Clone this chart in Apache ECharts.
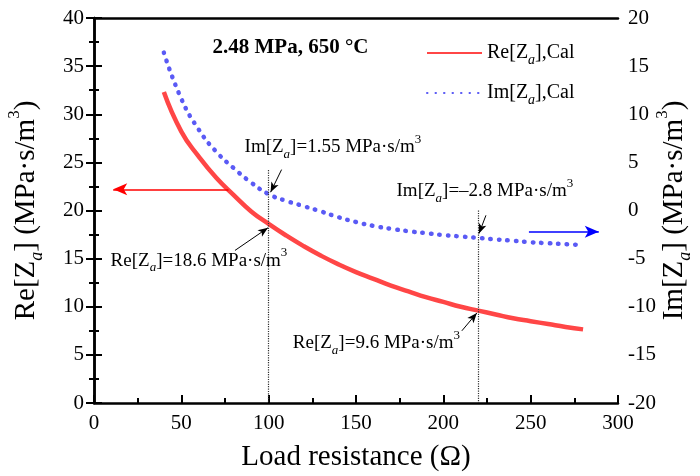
<!DOCTYPE html>
<html>
<head>
<meta charset="utf-8">
<script src="https://cdn.jsdelivr.net/npm/echarts@6/dist/echarts.min.js"></script>
<style>html,body{margin:0;padding:0;background:#fff}#c{width:700px;height:476px}</style>
</head>
<body>
<div id="c"></div>
<script>
// ---- data ----
const resistance = [40,50,60,70,80,90,100,110,120,130,140,150,160,170,180,190,200,210,220,230,240,250,260,270,280];
const reCal = [32.3,28.2,25.6,23.4,21.6,19.9,18.6,17.4,16.3,15.3,14.4,13.6,12.9,12.2,11.6,11.0,10.5,10.0,9.6,9.2,8.8,8.5,8.2,7.9,7.65];
const imCal = [16.4,11.6,8.4,6.1,4.4,2.9,1.7,1.0,0.45,-0.1,-0.7,-1.2,-1.6,-1.9,-2.15,-2.35,-2.55,-2.7,-2.85,-3.0,-3.15,-3.3,-3.4,-3.5,-3.6];
const xTickLabels = [0,50,100,150,200,250,300];
const leftTicks = [0,5,10,15,20,25,30,35,40];
const rightTicks = [-20,-15,-10,-5,0,5,10,15,20];
const seriesNames = ['Re','Im'];
const conditionText = '2.48 MPa, 650 \u00B0C';
const markedR = [100, 220];

const FONT = '"Liberation Serif","Times New Roman",serif';
const chart = echarts.init(document.getElementById('c'), null, {renderer:'canvas'});

const nameRich = {
  n:{fontFamily:FONT,fontSize:29,color:'#000'},
  sub:{fontFamily:FONT,fontSize:18,fontStyle:'italic',color:'#000',verticalAlign:'bottom',lineHeight:40},
  sup:{fontFamily:FONT,fontSize:17,color:'#000',verticalAlign:'top',lineHeight:36}
};
const annRich = {
  n:{fontFamily:FONT,fontSize:19,color:'#000'},
  sub:{fontFamily:FONT,fontSize:13,fontStyle:'italic',color:'#000',verticalAlign:'bottom',lineHeight:28},
  sup:{fontFamily:FONT,fontSize:13,color:'#000',verticalAlign:'top',lineHeight:26}
};
function ann(kind, val){
  return '{n|'+kind+'[Z}{sub|a}{n|]='+val+' MPa\u00B7s/m}{sup|3}';
}
function axisCommon(){
  return {
    axisLine:{show:true,lineStyle:{color:'#000',width:2.5}},
    axisTick:{show:true,inside:true,length:8,lineStyle:{color:'#000',width:2}},
    minorTick:{show:true,splitNumber:2,length:5,lineStyle:{color:'#000',width:2}},
    splitLine:{show:false},
    nameMoveOverlap:false,
    axisLabel:{fontFamily:FONT,fontSize:21,color:'#000',margin:10}
  };
}

const option = {
  animation:false,
  backgroundColor:'#fff',
  grid:{left:94,right:82,top:18,bottom:73,containLabel:false,outerBoundsMode:'none'},
  legend:{
    orient:'vertical',left:421,top:38,itemWidth:55,itemHeight:14,itemGap:16,
    data:seriesNames.map(n=>({name:n,itemStyle:{opacity:0}})),
    formatter:function(n){return '{n|'+n+'[Z}{sub|a}{n|],Cal}';},
    textStyle:{rich:{
      n:{fontFamily:FONT,fontSize:20,color:'#000'},
      sub:{fontFamily:FONT,fontSize:14,fontStyle:'italic',color:'#000',verticalAlign:'bottom',lineHeight:28}
    }}
  },
  xAxis:[
    Object.assign(axisCommon(),{
      type:'value',min:0,max:300,interval:50,position:'bottom',
      name:'Load resistance (\u03A9)',nameLocation:'middle',nameGap:40,
      nameTextStyle:{fontFamily:FONT,fontSize:29,color:'#000'},
      axisLabel:{fontFamily:FONT,fontSize:21,color:'#000',margin:10,
        formatter:function(v){return xTickLabels.indexOf(v)>=0?String(v):'';}}
    }),
    {type:'value',min:0,max:300,position:'top',
     axisLine:{show:true,onZero:false,lineStyle:{color:'#000',width:2.5}},
     axisTick:{show:false},axisLabel:{show:false},splitLine:{show:false}}
  ],
  yAxis:[
    Object.assign(axisCommon(),{
      type:'value',min:leftTicks[0],max:leftTicks[leftTicks.length-1],interval:5,position:'left',
      name:'{n|Re[Z}{sub|a}{n|] (MPa\u00B7s/m}{sup|3}{n|)}',nameLocation:'middle',nameGap:48,nameRotate:90,
      nameTextStyle:{rich:nameRich}
    }),
    Object.assign(axisCommon(),{
      type:'value',min:rightTicks[0],max:rightTicks[rightTicks.length-1],interval:5,position:'right',
      name:'{n|Im[Z}{sub|a}{n|] (MPa\u00B7s/m}{sup|3}{n|)}',nameLocation:'middle',nameGap:36,nameRotate:90,
      nameTextStyle:{rich:nameRich}
    })
  ],
  series:[
    {
      name:seriesNames[0],type:'line',xAxisIndex:0,yAxisIndex:0,smooth:true,
      showSymbol:false,symbol:'none',
      lineStyle:{color:'#FF4646',width:4.5},itemStyle:{color:'#FF4646'},
      data:resistance.map((r,i)=>[r,reCal[i]]),
      markLine:{
        silent:true,animation:false,label:{show:false},symbol:['none','none'],
        data:[
          [{coord:[markedR[0],24.2],lineStyle:{color:'#333',type:'dotted',width:1.2}},{coord:[markedR[0],0]}],
          [{coord:[markedR[1],20.0],lineStyle:{color:'#333',type:'dotted',width:1.2}},{coord:[markedR[1],0]}],
          [{coord:[77,22.2],symbol:'none',lineStyle:{color:'#FF0000',width:1.5,type:'solid'}},{coord:[11,22.2],symbol:'arrow',symbolSize:[9,14]}],
          [{coord:[249,17.8],symbol:'none',lineStyle:{color:'#0000FF',width:1.5,type:'solid'}},{coord:[289,17.8],symbol:'arrow',symbolSize:[9,14]}],
          [{coord:[107.4,24.25],symbol:'none',lineStyle:{color:'#000',width:1,type:'solid'}},{coord:[101.1,21.9],symbol:'arrow',symbolSize:[6,10]}],
          [{coord:[80.7,15.85],symbol:'none',lineStyle:{color:'#000',width:1,type:'solid'}},{coord:[99.6,18.2],symbol:'arrow',symbolSize:[6,10]}],
          [{coord:[224.4,19.5],symbol:'none',lineStyle:{color:'#000',width:1,type:'solid'}},{coord:[220.4,17.6],symbol:'arrow',symbolSize:[6,10]}],
          [{coord:[210.6,7.5],symbol:'none',lineStyle:{color:'#000',width:1,type:'solid'}},{coord:[219.2,9.35],symbol:'arrow',symbolSize:[6,10]}]
        ]
      },
      markPoint:{
        silent:true,animation:false,symbol:'circle',symbolSize:1,itemStyle:{color:'rgba(0,0,0,0)'},
        data:[
          {coord:[112.5,36.9],label:{show:true,position:'inside',formatter:conditionText,fontFamily:FONT,fontSize:21,fontWeight:'bold',color:'#000'}},
          {coord:[136.8,26.6],label:{show:true,position:'inside',formatter:ann('Im','1.55'),rich:annRich}},
          {coord:[60.1,14.8],label:{show:true,position:'inside',formatter:ann('Re','18.6'),rich:annRich}},
          {coord:[223.8,22.0],label:{show:true,position:'inside',formatter:ann('Im','\u20132.8'),rich:annRich}},
          {coord:[161.7,6.2],label:{show:true,position:'inside',formatter:ann('Re','9.6'),rich:annRich}}
        ]
      }
    },
    {
      name:seriesNames[1],type:'line',xAxisIndex:0,yAxisIndex:1,smooth:true,
      showSymbol:false,symbol:'none',
      lineStyle:{color:'#5A5AF5',width:4.5,type:[0.5,8],cap:'round'},itemStyle:{color:'#5A5AF5'},
      data:resistance.map((r,i)=>[r,imCal[i]])
    }
  ]
};
chart.setOption(option);
</script>
</body>
</html>
